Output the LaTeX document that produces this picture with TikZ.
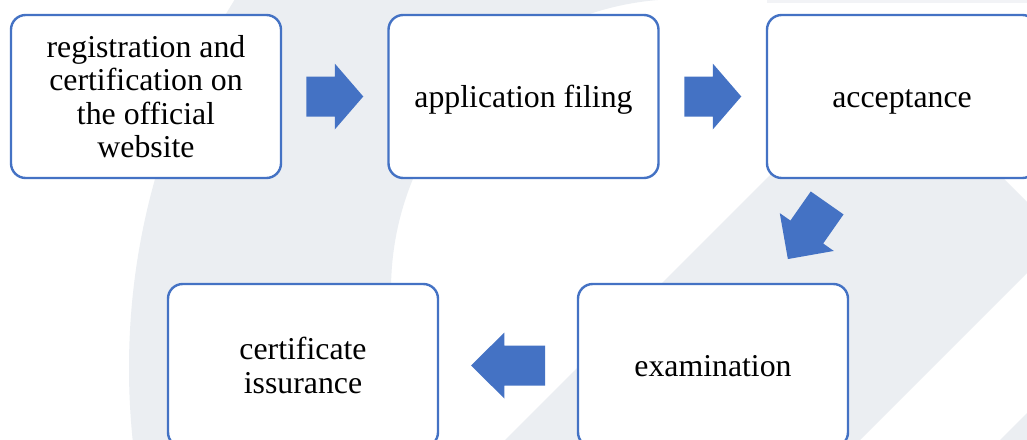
\documentclass[tikz,border=0pt]{standalone}
\usepackage{fontspec}
\setmainfont{Liberation Serif}
\usetikzlibrary{calc}

\definecolor{boxblue}{HTML}{4472C4}
\definecolor{markgrey}{HTML}{EBEEF2}
\definecolor{markpale}{HTML}{F2F3F6}

\tikzset{
  stepbox/.style={
    draw=boxblue, line width=1.8pt, fill=white,
    rounded corners=11pt,
    minimum width=202.5pt, minimum height=122.25pt,
    inner sep=0pt, align=center,
    font=\fontsize{23.85}{25}\selectfont
  },
  % single-line label: full ascender/descender room, like a word-processor line
  oneline/.style={
    execute at begin node={\vrule width 0pt height 0.891em depth 0pt},
    execute at end node={\vrule width 0pt height 0pt depth 0.216em}
  },
  % block arrow pointing along +x: #1 = total length, #2 = head length
  pics/blockarrow/.style 2 args={code={
    \fill[boxblue] (-#1/2,-20) -- ({#1/2-#2},-20) -- ({#1/2-#2},-33)
      -- (#1/2,0) -- ({#1/2-#2},33) -- ({#1/2-#2},20) -- (-#1/2,20) -- cycle;
  }}
}

\begin{document}
\begin{tikzpicture}[x=0.75pt, y=-0.75pt]
\useasboundingbox (0,0) rectangle (1027,439);
\clip (0,0) rectangle (1027,439);
\fill[white] (0,0) rectangle (1027,439);

% faint logo in the background
\begin{scope}
  \clip (-10,-10) rectangle (706,450);
  \fill[markgrey, even odd rule] (823,368) circle[radius=694] (682,290) circle[radius=291];
\end{scope}
\fill[markgrey] (885,60) -- (1062.5,237.5) -- (761,539) -- (406,539) -- cycle;
\fill[markgrey] (985,455) -- (1045,395) -- (1045,455) -- cycle;
\fill[markpale] (767,0) rectangle (1027,3);

% process steps
\node[stepbox] (reg)  at (146,96.5)  {registration and\\certification on\\the official\\website};
\node[stepbox, oneline] (app)  at (523.5,96.5) {application filing};
\node[stepbox, oneline] (acc)  at (902,96.5)  {acceptance};
\node[stepbox, oneline] (exam) at (713,365.5) {examination};
\node[stepbox] (cert) at (303,365.5) {certificate\\issurance};

% block arrows between the steps
\pic at ($(reg.east)!0.5!(app.west)$) {blockarrow={57}{28.5}};
\pic at ($(app.east)!0.5!(acc.west)$) {blockarrow={57}{28.5}};
\pic[rotate=235] at ($(acc.south)!0.5!(exam.north)$) {blockarrow={68.5}{33}};
\pic[rotate=180] at ($(exam.west)!0.5!(cert.east)$) {blockarrow={74}{33.4}};
\end{tikzpicture}
\end{document}
